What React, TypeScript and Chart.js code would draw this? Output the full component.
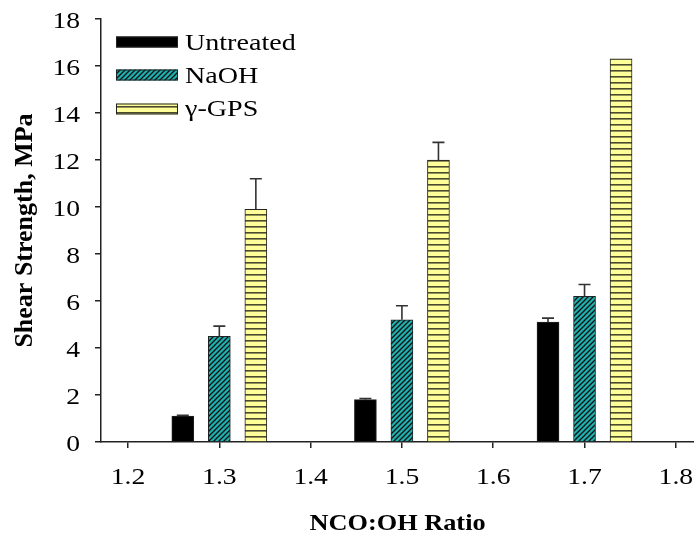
import { useEffect, useRef } from 'react';
import { Chart, registerables } from 'chart.js';

Chart.register(...registerables);

const ratios = [1.3, 1.5, 1.7];
const seriesNames = ['Untreated', 'NaOH', 'γ-GPS'];
const untreated = [1.1, 1.8, 5.1];
const naoh = [4.5, 5.2, 6.2];
const gps = [9.9, 12.0, 16.3];
const untreatedErr = [0.04, 0.05, 0.17];
const naohErr = [0.43, 0.6, 0.5];
const gpsErr = [1.3, 0.75, 0];
const seriesOffsets = [-0.04, 0, 0.04];
const xTicks = [1.2, 1.3, 1.4, 1.5, 1.6, 1.7, 1.8];
const yTicks = [0, 2, 4, 6, 8, 10, 12, 14, 16, 18];
const xTitle = 'NCO:OH Ratio';
const yTitle = 'Shear Strength, MPa';

const FONT = "'Liberation Serif', 'Times New Roman', serif";

function hatchPattern(): CanvasPattern | string {
  const c = document.createElement('canvas');
  c.width = 5;
  c.height = 5;
  const g = c.getContext('2d');
  if (!g) return '#1fb0b0';
  g.fillStyle = '#1fb0b0';
  g.fillRect(0, 0, 5, 5);
  g.strokeStyle = '#111';
  g.lineWidth = 1.3;
  g.beginPath();
  g.moveTo(-1, 6);
  g.lineTo(6, -1);
  g.moveTo(-1, 1);
  g.lineTo(1, -1);
  g.moveTo(4, 6);
  g.lineTo(6, 4);
  g.stroke();
  return g.createPattern(c, 'repeat') || '#1fb0b0';
}

function stripePattern(): CanvasPattern | string {
  const c = document.createElement('canvas');
  c.width = 6;
  c.height = 6;
  const g = c.getContext('2d');
  if (!g) return '#ffff99';
  g.fillStyle = '#ffff99';
  g.fillRect(0, 0, 6, 6);
  g.fillStyle = '#4a4a30';
  g.fillRect(0, 4, 6, 1.6);
  return g.createPattern(c, 'repeat') || '#ffff99';
}

function stretchedText(
  ctx: CanvasRenderingContext2D,
  text: string,
  x: number,
  y: number,
  font: string,
  sx: number,
  align: CanvasTextAlign
) {
  ctx.save();
  ctx.translate(x, y);
  ctx.scale(sx, 1);
  ctx.font = font;
  ctx.fillStyle = '#000';
  ctx.textAlign = align;
  ctx.textBaseline = 'alphabetic';
  ctx.fillText(text, 0, 0);
  ctx.restore();
}

export default function App() {
  const ref = useRef<HTMLCanvasElement | null>(null);

  useEffect(() => {
    if (!ref.current) return;
    const fills = ['#000000', hatchPattern(), stripePattern()];
    const values = [untreated, naoh, gps];
    const errors = [untreatedErr, naohErr, gpsErr];

    const errorBars = {
      id: 'errorBars',
      afterDatasetsDraw(chart: any) {
        const ctx = chart.ctx;
        const y = chart.scales.y;
        ctx.save();
        ctx.strokeStyle = '#333';
        ctx.lineWidth = 1.6;
        errors.forEach((errs, di) => {
          const meta = chart.getDatasetMeta(di);
          errs.forEach((e, j) => {
            if (!e) return;
            const el = meta.data[j];
            const top = y.getPixelForValue(values[di][j]);
            const capY = y.getPixelForValue(values[di][j] + e);
            ctx.beginPath();
            ctx.moveTo(el.x, top);
            ctx.lineTo(el.x, capY);
            ctx.moveTo(el.x - 6, capY);
            ctx.lineTo(el.x + 6, capY);
            ctx.stroke();
          });
        });
        ctx.restore();
      },
    };

    const textPlugin = {
      id: 'texts',
      afterDraw(chart: any) {
        const ctx = chart.ctx;
        const xs = chart.scales.x;
        const ys = chart.scales.y;
        // tick labels
        xTicks.forEach((v) => {
          stretchedText(ctx, v.toFixed(1), xs.getPixelForValue(v), 484, `23px ${FONT}`, 1.2, 'center');
        });
        yTicks.forEach((v) => {
          stretchedText(ctx, String(v), 80, ys.getPixelForValue(v) + 8.5, `23px ${FONT}`, 1.2, 'right');
        });
        // axis titles
        stretchedText(ctx, xTitle, (chart.chartArea.left + chart.chartArea.right) / 2, 530, `bold 22.5px ${FONT}`, 1.17, 'center');
        ctx.save();
        ctx.translate(32, (chart.chartArea.top + chart.chartArea.bottom) / 2);
        ctx.rotate(-Math.PI / 2);
        ctx.font = `bold 26px ${FONT}`;
        ctx.fillStyle = '#000';
        ctx.textAlign = 'center';
        ctx.textBaseline = 'alphabetic';
        ctx.fillText(yTitle, 0, 0);
        ctx.restore();
        // legend
        const rows = [42, 75, 109];
        const baselines = [50, 83, 116];
        seriesNames.forEach((name, i) => {
          const cy = rows[i];
          ctx.save();
          ctx.fillStyle = fills[i];
          ctx.fillRect(116, cy - 5.5, 62, 11);
          ctx.strokeStyle = '#222';
          ctx.lineWidth = 1;
          ctx.strokeRect(116.5, cy - 5, 61, 10);
          ctx.restore();
          stretchedText(ctx, name, 185, baselines[i], `24px ${FONT}`, 1.17, 'left');
        });
      },
    };

    const chart = new Chart(ref.current, {
      type: 'bar',
      data: {
        datasets: values.map((vals, i) => ({
          label: seriesNames[i],
          data: vals.map((v, j) => ({ x: ratios[j] + seriesOffsets[i], y: v })),
          backgroundColor: fills[i] as any,
          borderColor: '#222',
          borderWidth: 1,
          barThickness: 22,
          grouped: false,
        })),
      },
      options: {
        responsive: false,
        animation: false,
        layout: { padding: { top: 19, right: 0, left: 0, bottom: 0 } },
        plugins: {
          legend: { display: false },
          tooltip: { enabled: false },
        },
        scales: {
          x: {
            type: 'linear',
            offset: false,
            min: 1.1704,
            max: 1.8199,
            afterBuildTicks: (s: any) => {
              s.ticks = xTicks.map((v) => ({ value: v }));
            },
            afterFit: (s: any) => {
              s.height = 94;
            },
            ticks: { display: false },
            grid: {
              offset: false,
              drawOnChartArea: false,
              drawTicks: true,
              tickLength: 6,
              color: '#222',
              lineWidth: 1.5,
            },
            border: { display: true, color: '#222', width: 1.5 },
          },
          y: {
            type: 'linear',
            min: 0,
            max: 18,
            afterBuildTicks: (s: any) => {
              s.ticks = yTicks.map((v) => ({ value: v }));
            },
            afterFit: (s: any) => {
              s.width = 101;
            },
            ticks: { display: false },
            grid: {
              drawOnChartArea: false,
              drawTicks: true,
              tickLength: 6,
              color: '#222',
              lineWidth: 1.5,
            },
            border: { display: true, color: '#222', width: 1.5 },
          },
        },
      },
      plugins: [errorBars, textPlugin],
    });

    return () => chart.destroy();
  }, []);

  return (
    <div style={{ position: 'absolute', left: 0, top: 0, width: 694, height: 536, background: '#fff' }}>
      <canvas ref={ref} width={694} height={536} style={{ display: 'block' }} />
    </div>
  );
}
